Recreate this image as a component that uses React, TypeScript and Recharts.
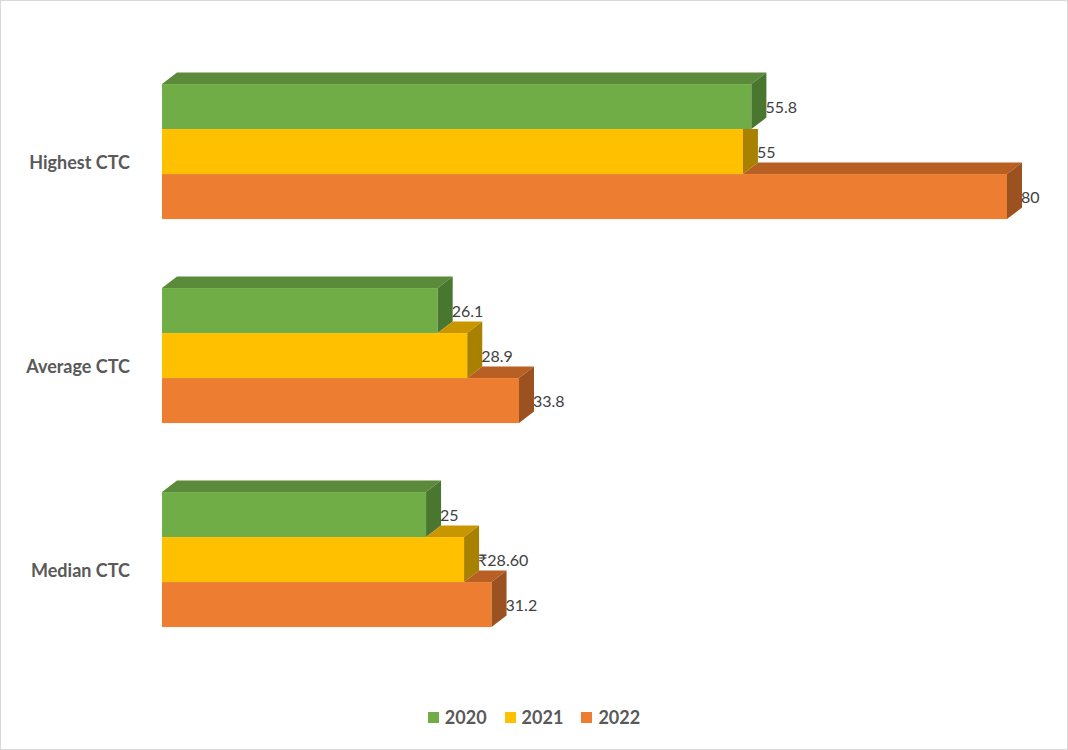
import React from 'react';
import { BarChart, Bar, XAxis, YAxis, Legend, LabelList } from 'recharts';

const categories = ['Highest CTC', 'Average CTC', 'Median CTC'];
const values2020 = [55.8, 26.1, 25];
const values2021 = [55, 28.9, 28.6];
const values2022 = [80, 33.8, 31.2];
const labels2020 = ['55.8', '26.1', '25'];
const labels2021 = ['55', '28.9', '₹28.60'];
const labels2022 = ['80', '33.8', '31.2'];

const data = categories.map((name, i) => ({
  name,
  y2020: values2020[i],
  y2021: values2021[i],
  y2022: values2022[i],
  l2020: labels2020[i],
  l2021: labels2021[i],
  l2022: labels2022[i],
}));

const series = [
  { key: 'y2020', label: 'l2020', name: '2020', front: '#70AD47', top: '#5A8A3A', side: '#4A7730' },
  { key: 'y2021', label: 'l2021', name: '2021', front: '#FFC000', top: '#C89700', side: '#A88100' },
  { key: 'y2022', label: 'l2022', name: '2022', front: '#ED7D31', top: '#B85F24', side: '#9C5120' },
];

// depth offset of the fake 3D faces
const DX = 15;
const DY = 11.5;

const pts = (arr: number[][]) => arr.map((p) => p.join(',')).join(' ');

const makeShape = (key: string, aboveKey: string | null, c: { front: string; top: string; side: string }) =>
  (props: any) => {
    const { x, y, width, height, payload } = props;
    const xe = x + width;
    const top = y;
    const bot = y + height;
    let xa = x;
    let showTop = true;
    if (aboveKey) {
      xa = x + (width * payload[aboveKey]) / payload[key];
      showTop = xe > xa;
    }
    const topFace = showTop
      ? pts([[xa, top], [xa + DX, top - DY], [xe + DX, top - DY], [xe, top]])
      : null;
    const sideFace = showTop
      ? pts([[xe, top], [xe + DX, top - DY], [xe + DX, bot - DY], [xe, bot]])
      : pts([[xe, top], [xe + DX, top], [xe + DX, bot - DY], [xe, bot]]);
    return (
      <g>
        <rect x={x} y={top} width={width} height={height} fill={c.front} />
        {topFace && <polygon points={topFace} fill={c.top} />}
        <polygon points={sideFace} fill={c.side} />
      </g>
    );
  };

const ValueLabel = (props: any) => {
  const { x, y, width, height, value } = props;
  return (
    <text
      x={x + width + DX - 1}
      y={y + height / 2 + 6}
      fontSize={16}
      fontFamily="Lato, sans-serif"
      fill="#404040"
    >
      {value}
    </text>
  );
};

const CategoryTick = (props: any) => {
  const { x, y, payload } = props;
  return (
    <text
      x={x}
      y={y + 17}
      textAnchor="end"
      fontSize={18}
      fontWeight="bold"
      fontFamily="Lato, sans-serif"
      fill="#595959"
    >
      {payload.value}
    </text>
  );
};

const LegendContent = () => (
  <div
    style={{
      display: 'flex',
      justifyContent: 'center',
      alignItems: 'center',
      height: 26,
      fontFamily: 'Lato, sans-serif',
      fontWeight: 'bold',
      fontSize: 18,
      color: '#595959',
    }}
  >
    {series.map((s) => (
      <div key={s.key} style={{ display: 'flex', alignItems: 'center', margin: '0 9px' }}>
        <span style={{ width: 11, height: 11, background: s.front, marginRight: 6, display: 'inline-block' }} />
        <span>{s.name}</span>
      </div>
    ))}
  </div>
);

export default function App() {
  return (
    <div style={{ position: 'absolute', left: 0, top: 0, width: 1068, height: 750, background: '#fff' }}>
      <BarChart
        width={1068}
        height={750}
        data={data}
        layout="vertical"
        margin={{ top: 50, right: 61, left: 0, bottom: 62 }}
        barCategoryGap="16.7%"
        barGap={0}
      >
        <XAxis type="number" domain={[0, 80]} hide />
        <YAxis
          type="category"
          dataKey="name"
          width={162}
          axisLine={false}
          tickLine={false}
          tickSize={0}
          tickMargin={32}
          tick={<CategoryTick />}
        />
        <Legend
          content={<LegendContent />}
          wrapperStyle={{ top: 704, bottom: 'auto', left: 0, width: 1068 }}
        />
        {series.map((s, i) => (
          <Bar
            key={s.key}
            dataKey={s.key}
            name={s.name}
            fill={s.front}
            isAnimationActive={false}
            shape={makeShape(s.key, i > 0 ? series[i - 1].key : null, s)}
          >
            <LabelList dataKey={s.label} content={<ValueLabel />} />
          </Bar>
        ))}
      </BarChart>
      <div
        style={{
          position: 'absolute',
          left: 0,
          top: 0,
          width: 1068,
          height: 750,
          border: '1px solid #d9d9d9',
          boxSizing: 'border-box',
          pointerEvents: 'none',
        }}
      />
    </div>
  );
}
